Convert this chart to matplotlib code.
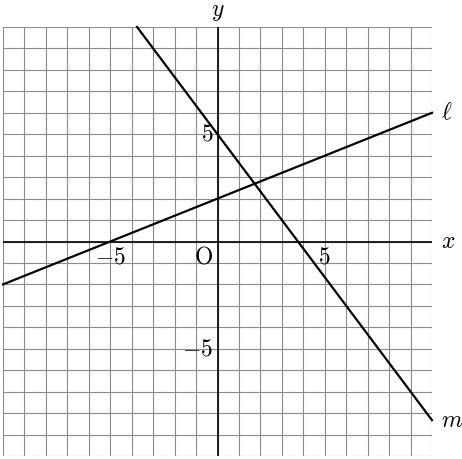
import numpy as np
import matplotlib.pyplot as plt

plt.rcParams['mathtext.fontset'] = 'cm'
plt.rcParams['font.family'] = 'serif'

# line endpoints
l_x = [-10, 10]
l_y = [-2, 6]
m_x = [-3.75, 10]
m_y = [10, -8.33]

xlim = (-10, 10)
ylim = (-10, 10)
ticks = [-5, 5]

fig = plt.figure(figsize=(4.62, 4.59), dpi=100)
ax = fig.add_axes([3 / 462, 3 / 459, 429 / 462, 429 / 459])
ax.set_xlim(*xlim)
ax.set_ylim(*ylim)

# grid
grid_kw = dict(color='#8c8c8c', lw=0.8, zorder=1)
for v in np.arange(xlim[0], xlim[1] + 1):
    ax.axvline(v, **grid_kw)
for v in np.arange(ylim[0], ylim[1] + 1):
    ax.axhline(v, **grid_kw)

# axes
ax.axhline(0, color='black', lw=1.2, zorder=2)
ax.axvline(0, color='black', lw=1.2, zorder=2)

# lines
ax.plot(l_x, l_y, color='black', lw=1.6, zorder=3, clip_on=False)
ax.plot(m_x, m_y, color='black', lw=1.6, zorder=3, clip_on=False)

for s in ax.spines.values():
    s.set_visible(False)
ax.set_xticks([])
ax.set_yticks([])

fs = 17
txt = dict(fontsize=fs, clip_on=False)
ax.text(10.4, 0, '$x$', ha='left', va='center', **txt)
ax.text(0, 10.7, '$y$', ha='center', va='center', **txt)
ax.text(10.4, l_y[-1], r'$\ell$', ha='left', va='center', **txt)
ax.text(10.4, m_y[-1], '$m$', ha='left', va='center', **txt)
ax.text(-0.2, -0.2, r'$\mathrm{O}$', ha='right', va='top', **txt)
for t in ticks:
    ax.text(t, -0.2, '$%d$' % t, ha='center', va='top', **txt)
    ax.text(-0.2, t, '$%d$' % t, ha='right', va='center', **txt)

plt.savefig('out.png', dpi=100)
